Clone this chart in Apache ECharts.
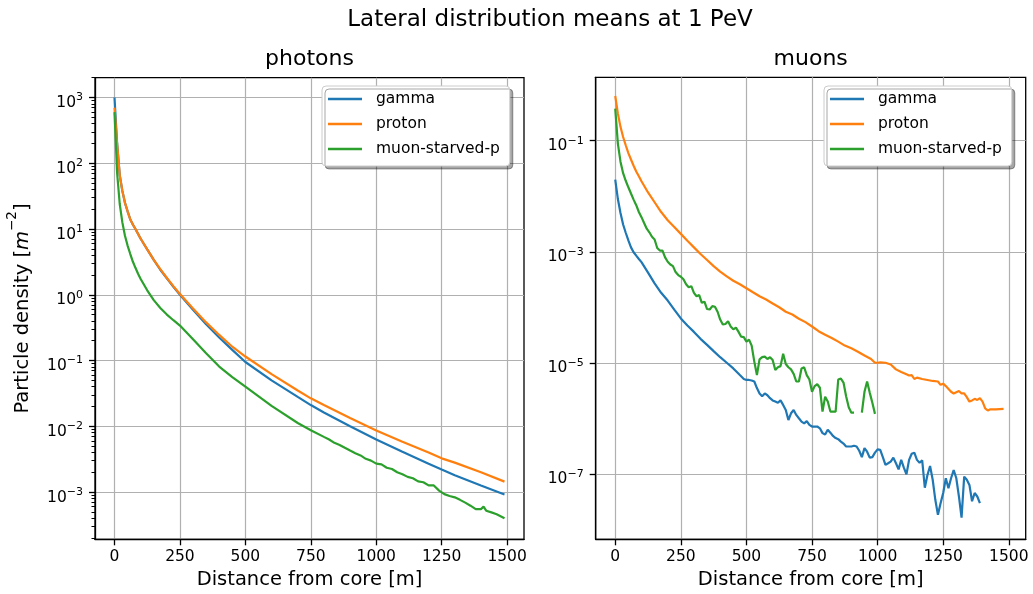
<!DOCTYPE html>
<html><head><meta charset="utf-8">
<script src="https://cdn.jsdelivr.net/npm/echarts@6/dist/echarts.min.js"></script>
<style>html,body{margin:0;padding:0;background:#fff}#c{width:1033px;height:594px}</style>
</head><body><div id="c"></div>
<script>
const FONT = 'DejaVu Sans';
const seriesNames = ['gamma', 'proton', 'muon-starved-p'];
const colors = ['#1f77b4', '#ff7f0e', '#2ca02c'];
const xTicks = [0, 250, 500, 750, 1000, 1250, 1500];
const photonYTicks = [1e-3, 1e-2, 1e-1, 1, 1e1, 1e2, 1e3];
const muonYTicks = [1e-7, 1e-5, 1e-3, 1e-1];
const plotTitles = ['photons', 'muons'];

// ---- photons panel ----
const phSmoothX = [0,10,20,30,40,50,60,70,80,100,125,150,175,200,225,250,300,350,400,450,500,600,700,750,800,900,1000,1100,1200,1250,1300,1400,1490];
const phGamma = [1000,200,66,38,25,18.6,14.1,11.7,10,7.1,4.9,3.4,2.4,1.78,1.32,1.0,0.59,0.355,0.224,0.145,0.095,0.050,0.028,0.021,0.0162,0.010,0.0063,0.0041,0.0027,0.0022,0.0018,0.00126,0.00092];
const phProton = [700,195,66,38,25,18.6,14.1,11.7,10,7.1,4.9,3.4,2.45,1.8,1.35,1.03,0.62,0.38,0.245,0.162,0.115,0.062,0.035,0.0266,0.021,0.0134,0.0086,0.0058,0.0040,0.00325,0.0028,0.0020,0.00144];
const phStarvedX = [0,10,20,30,40,50,60,70,80,90,100,125,150,175,200,225,250,300,350,400,450,500,600,700,750,800,820,840,860,880,900,920,940,960,980,1000,1020,1040,1060,1080,1100,1120,1140,1160,1180,1200,1220,1240,1260,1280,1300,1320,1340,1360,1380,1400,1410,1420,1440,1460,1490];
const phStarved = [600,71,24,12.6,7.9,5.6,4.2,3.2,2.57,2.09,1.74,1.17,0.83,0.63,0.50,0.41,0.34,0.21,0.129,0.081,0.056,0.040,0.0204,0.0112,0.0087,0.0069,0.0063,0.0056,0.0052,0.0047,0.00427,0.0039,0.0036,0.0032,0.0030,0.0027,0.00263,0.00234,0.00224,0.0020,0.00186,0.0017,0.00162,0.00145,0.00141,0.00126,0.00126,0.00105,0.00093,0.00087,0.00083,0.00076,0.00069,0.00062,0.00055,0.00055,0.0006,0.00052,0.00049,0.00046,0.0004];

// ---- muons panel ----
const muGammaX = [0,10,20,30,40,50,60,70,80,90,100,125,150,175,200,225,250,275,300,325,350,375,400,425,450,475,490,
  500,510,520,530,540,550,560,570,580,590,600,610,620,630,640,650,660,670,680,690,700,710,720,730,740,750,760,770,780,790,
  800,810,820,830,840,850,860,870,880,890,900,910,920,930,940,950,960,970,980,990,1000,1010,1020,1030,1040,1050,1060,1070,1080,1090,
  1100,1110,1120,1130,1140,1150,1160,1170,1180,1190,1200,1210,1220,1230,1240,1250,1260,1270,1280,1290,1300,1310,1320,1330,1340,1350,1360,1370,1380,1390];
const muGamma = [2.0e-2,8.9e-3,5.0e-3,3.1e-3,2.2e-3,1.6e-3,1.2e-3,9.8e-4,8.5e-4,7.4e-4,6.5e-4,4.2e-4,2.7e-4,1.82e-4,1.32e-4,9.1e-5,6.3e-5,4.7e-5,3.6e-5,2.7e-5,2.1e-5,1.62e-5,1.26e-5,1.0e-5,7.9e-6,6.0e-6,5.1e-6,
  4.9e-6,4.9e-6,4.8e-6,4.6e-6,3.5e-6,2.8e-6,2.5e-6,2.8e-6,2.6e-6,2.3e-6,2.1e-6,2.0e-6,1.9e-6,2.1e-6,1.74e-6,1.41e-6,9.3e-7,1.23e-6,1.41e-6,1.15e-6,
  1.0e-6,8.7e-7,8.1e-7,8.9e-7,7.6e-7,7.1e-7,7.1e-7,7.1e-7,6.6e-7,5.4e-7,5.1e-7,6.2e-7,5.5e-7,4.8e-7,4.4e-7,4.2e-7,3.8e-7,3.5e-7,3.1e-7,3.1e-7,
  3.1e-7,3.2e-7,3.1e-7,2.6e-7,2.0e-7,2.9e-7,2.5e-7,1.95e-7,2.0e-7,2.4e-7,2.75e-7,2.7e-7,2.0e-7,1.45e-7,1.55e-7,1.66e-7,1.95e-7,1.55e-7,1.2e-7,1.78e-7,
  1.29e-7,9.8e-8,1.78e-7,2.3e-7,2.4e-7,1.78e-7,1.58e-7,1.74e-7,5.6e-8,9.5e-8,1.38e-7,7.8e-8,3.4e-8,1.82e-8,2.95e-8,4.5e-8,8.3e-8,5.5e-8,8.3e-8,1.17e-7,
  8.3e-8,3.9e-8,1.62e-8,8.9e-8,7.8e-8,6.3e-8,3.2e-8,4.5e-8,3.9e-8,2.95e-8];
const muProtonX = [0,10,20,30,40,50,60,70,80,90,100,125,150,175,200,225,250,275,300,325,350,375,400,425,450,475,500,525,550,575,600,625,650,675,700,725,750,775,800,825,850,875,900,925,950,975,
  990,1000,1010,1030,1050,1070,1090,1110,1120,1130,1140,1150,1170,1190,1210,1230,1240,1250,1260,1280,1290,1300,1310,1320,1330,1340,1350,1360,1370,1380,1390,1400,1410,1420,1430,1450,1480];
const muProton = [0.64,0.31,0.178,0.117,8.3e-2,6.0e-2,4.6e-2,3.55e-2,2.8e-2,2.3e-2,1.86e-2,1.17e-2,7.8e-3,5.2e-3,3.7e-3,2.8e-3,2.1e-3,1.58e-3,1.2e-3,9.1e-4,7.1e-4,5.5e-4,4.4e-4,3.6e-4,3.0e-4,2.6e-4,2.2e-4,1.86e-4,1.58e-4,1.38e-4,1.17e-4,1.0e-4,8.3e-5,7.4e-5,6.2e-5,5.4e-5,4.5e-5,3.7e-5,3.2e-5,2.8e-5,2.4e-5,2.04e-5,1.82e-5,1.58e-5,1.35e-5,1.17e-5,
  1.0e-5,1.0e-5,1.02e-5,1.0e-5,9.3e-6,7.6e-6,6.8e-6,6.2e-6,5.9e-6,6.0e-6,5.1e-6,5.4e-6,5.1e-6,4.9e-6,4.7e-6,4.6e-6,4.0e-6,4.2e-6,3.8e-6,3.0e-6,2.8e-6,2.95e-6,3.1e-6,2.8e-6,2.8e-6,2.4e-6,2.0e-6,2.1e-6,2.24e-6,2.14e-6,2.3e-6,2.0e-6,1.51e-6,1.38e-6,1.45e-6,1.45e-6,1.48e-6];
const muStarvedX = [0,10,20,30,40,50,60,70,80,90,100,110,120,130,140,150,160,170,180,190,200,210,220,230,240,250,260,270,280,290,
  300,310,320,330,340,350,360,370,380,390,400,410,420,430,440,450,460,470,480,490,500,510,520,530,540,550,560,570,580,590,
  600,610,620,630,640,650,660,670,680,690,700,710,720,730,740,750,760,770,780,790,800,810,820,830,840,850,860,870,880,890,
  900,910,920,930,940,950,960,970,980,990];
const muStarved = [0.38,8.9e-2,4.2e-2,2.6e-2,1.9e-2,1.45e-2,1.12e-2,8.7e-3,6.9e-3,5.2e-3,4.2e-3,3.3e-3,2.6e-3,2.24e-3,1.86e-3,1.66e-3,1.17e-3,1.05e-3,1.05e-3,7.9e-4,
  6.6e-4,5.9e-4,5.5e-4,4.3e-4,3.8e-4,3.55e-4,3.2e-4,2.6e-4,2.3e-4,2.4e-4,1.82e-4,1.58e-4,1.66e-4,1.2e-4,1.26e-4,9.3e-5,9.1e-5,1.05e-4,1.02e-4,8.3e-5,
  6.0e-5,4.9e-5,5.0e-5,5.6e-5,4.5e-5,4.0e-5,4.3e-5,3.6e-5,2.95e-5,2.9e-5,2.4e-5,2.6e-5,2.04e-5,1.05e-5,6.0e-6,1.15e-5,1.26e-5,1.29e-5,1.17e-5,1.26e-5,
  1.12e-5,7.4e-6,8.3e-6,8.7e-6,1.45e-5,9.5e-6,8.3e-6,7.6e-6,6.3e-6,4.6e-6,4.6e-6,7.9e-6,8.3e-6,6.0e-6,5.0e-6,3.0e-6,3.8e-6,4.1e-6,3.55e-6,1.32e-6,
  2.45e-6,2.0e-6,1.32e-6,1.32e-6,1.32e-6,5.0e-6,5.2e-6,4.4e-6,2.5e-6,1.58e-6,1.26e-6,1.26e-6,null,null,1.26e-6,3.0e-6,4.6e-6,2.9e-6,1.9e-6,1.2e-6];

function pairs(xs, ys) { return xs.map((x, i) => [x, ys[i]]); }

const minorPhotonTicks = [];
for (let d = -4; d <= 3; d++) for (let k = 2; k <= 9; k++) minorPhotonTicks.push(k * Math.pow(10, d));

function supLabel(v) {
  const e = Math.round(Math.log10(v));
  return '{b|10}{s|' + (e < 0 ? '\u2212' : '') + Math.abs(e) + '}';
}
const yRich = {
  b: { fontFamily: FONT, fontSize: 15.5, color: '#000', lineHeight: 27, verticalAlign: 'bottom' },
  s: { fontFamily: FONT, fontSize: 11, color: '#000', lineHeight: 27, verticalAlign: 'middle' }
};
const spine = { color: '#000', width: 1.3 };
const gridLine = { show: true, lineStyle: { color: '#b0b0b0', width: 1.2 } };

function makeX(gi) {
  return {
    type: 'value', gridIndex: gi, min: -74.5, max: 1564.5,
    name: 'Distance from core [m]', nameLocation: 'middle', nameGap: 31,
    nameTextStyle: { fontFamily: FONT, fontSize: 19.5, color: '#000' },
    axisLine: { show: true, onZero: false, lineStyle: spine },
    axisTick: { show: true, length: 6, customValues: xTicks, lineStyle: spine },
    axisLabel: { customValues: xTicks, margin: 10, fontFamily: FONT, fontSize: 15.5, color: '#000', formatter: (v) => String(v) },
    splitLine: gridLine
  };
}
function makeY(gi, min, max, ticks) {
  return {
    type: 'log', logBase: 10, gridIndex: gi, min: min, max: max, position: 'left',
    axisLine: { show: true, onZero: false, lineStyle: spine },
    axisTick: { show: true, length: 6, customValues: ticks, lineStyle: spine },
    axisLabel: { customValues: ticks, margin: 12, formatter: supLabel, rich: yRich },
    splitLine: gridLine,
    minorTick: { show: false }, minorSplitLine: { show: false }
  };
}

const yLeft = makeY(0, 1.91e-4, 2.0e3, photonYTicks);
yLeft.name = '{n|Particle density [}{i|m}{s|\u22122}{n|]}';
yLeft.nameLocation = 'middle';
yLeft.nameGap = 62;
yLeft.nameTextStyle = {
  rich: {
    n: { fontFamily: FONT, fontSize: 19.5, color: '#000', lineHeight: 28, verticalAlign: 'bottom' },
    i: { fontFamily: FONT, fontSize: 19.5, fontStyle: 'italic', color: '#000', lineHeight: 28, verticalAlign: 'bottom' },
    s: { fontFamily: FONT, fontSize: 13.5, color: '#000', lineHeight: 28, verticalAlign: 'top' }
  }
};
const yLeftMinor = {
  type: 'log', logBase: 10, gridIndex: 0, min: 1.91e-4, max: 2.0e3, position: 'left',
  axisLine: { show: false, onZero: false },
  axisTick: { show: true, length: 3.5, customValues: minorPhotonTicks, lineStyle: { color: '#000', width: 1 } },
  axisLabel: { show: false }, splitLine: { show: false }
};
const yRight = makeY(1, 6.6e-9, 1.39, muonYTicks);

function legend(left) {
  return {
    orient: 'vertical', left: left, top: 86, data: seriesNames,
    icon: 'rect', itemWidth: 34, itemHeight: 2.5, itemGap: 7,
    padding: [4, 10, 8, 6],
    backgroundColor: '#fff', borderColor: '#cccccc', borderWidth: 1, borderRadius: 4,
    shadowColor: 'rgba(0,0,0,0.35)', shadowOffsetX: 3, shadowOffsetY: 3, shadowBlur: 0,
    selectedMode: false,
    textStyle: { fontFamily: FONT, fontSize: 15.5, color: '#000', lineHeight: 18, padding: [0, 0, 0, 9] }
  };
}
function line(name, idx, xi, yi, data) {
  return {
    name: name, type: 'line', xAxisIndex: xi, yAxisIndex: yi, data: data,
    showSymbol: false, symbol: 'none', connectNulls: false, silent: true,
    lineStyle: { width: 2.2, color: colors[idx] }, itemStyle: { color: colors[idx] }
  };
}
const titleStyle = (size) => ({ fontFamily: FONT, fontSize: size, fontWeight: 'normal', color: '#000' });

const option = {
  animation: false,
  backgroundColor: '#fff',
  title: [
    { text: 'Lateral distribution means at 1 PeV', left: 550, top: 9, textAlign: 'center', textVerticalAlign: 'top', padding: 0, textStyle: titleStyle(23) },
    { text: plotTitles[0], left: 309.5, top: 48, textAlign: 'center', textVerticalAlign: 'top', padding: 0, textStyle: titleStyle(22) },
    { text: plotTitles[1], left: 810.7, top: 48, textAlign: 'center', textVerticalAlign: 'top', padding: 0, textStyle: titleStyle(22) }
  ],
  grid: [
    { left: 95, top: 77.7, width: 429, height: 461.6, show: true, borderColor: '#000', borderWidth: 1.3, backgroundColor: 'transparent', containLabel: false, outerBoundsMode: 'none' },
    { left: 595.7, top: 77.3, width: 430, height: 462, show: true, borderColor: '#000', borderWidth: 1.3, backgroundColor: 'transparent', containLabel: false, outerBoundsMode: 'none' }
  ],
  xAxis: [makeX(0), makeX(1)],
  yAxis: [yLeft, yLeftMinor, yRight],
  legend: [legend(322), legend(824)],
  series: [
    line(seriesNames[0], 0, 0, 0, pairs(phSmoothX, phGamma)),
    line(seriesNames[1], 1, 0, 0, pairs(phSmoothX, phProton)),
    line(seriesNames[2], 2, 0, 0, pairs(phStarvedX, phStarved)),
    line(seriesNames[0], 0, 1, 2, pairs(muGammaX, muGamma)),
    line(seriesNames[1], 1, 1, 2, pairs(muProtonX, muProton)),
    line(seriesNames[2], 2, 1, 2, pairs(muStarvedX, muStarved))
  ]
};
const chart = echarts.init(document.getElementById('c'), null, { renderer: 'canvas' });
chart.setOption(option);
</script>
</body></html>
